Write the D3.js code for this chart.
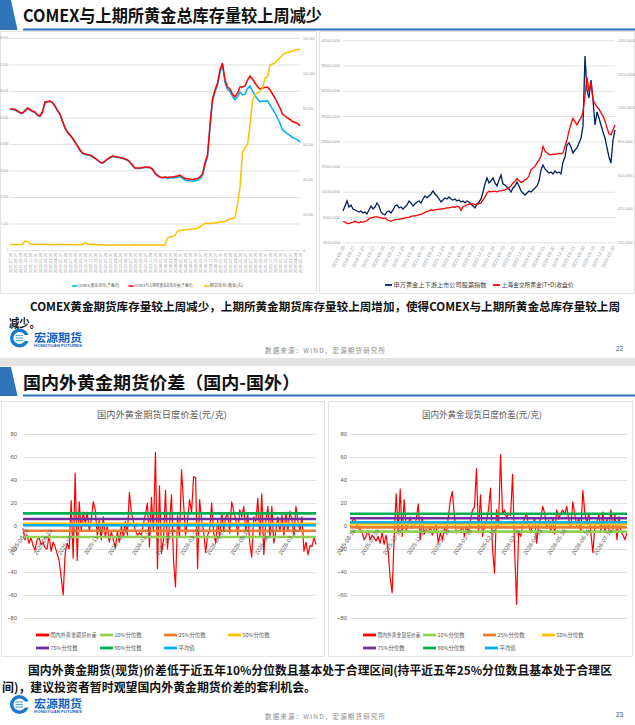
<!DOCTYPE html>
<html><head><meta charset="utf-8">
<script src="https://cdn.jsdelivr.net/npm/d3@7/dist/d3.min.js"></script>
<style>
html,body{margin:0;padding:0;background:#fff;}
svg{display:block;}
</style></head>
<body>
<svg id="chart" width="635" height="725"></svg>
<script>
// ================= DATA =================
// --- Top-left: COMEX & SHFE gold inventories ---
const tlDates = ["2021-07-30","2021-08-27","2021-09-24","2021-10-29","2021-11-26","2021-12-31",
"2022-01-28","2022-02-25","2022-03-25","2022-04-29","2022-05-27","2022-06-24","2022-07-29","2022-08-26","2022-09-30","2022-10-28","2022-11-25","2022-12-30",
"2023-01-27","2023-02-24","2023-03-31","2023-04-28","2023-05-26","2023-06-30","2023-07-28","2023-08-25","2023-09-29","2023-10-27","2023-11-24","2023-12-29",
"2024-01-26","2024-02-23","2024-03-29","2024-04-26","2024-05-31","2024-06-28","2024-07-26","2024-08-30","2024-09-27","2024-10-25","2024-11-29","2024-12-27",
"2025-01-31","2025-02-28","2025-03-28","2025-04-25","2025-05-30","2025-06-27","2025-07-25","2025-08-29","2025-09-26","2025-10-31","2025-11-28","2025-12-26",
"2026-01-30","2026-02-27","2026-03-27","2026-04-24","2026-05-29"];
const tlComex = [31820,31820,31710,31370,31030,30920,31420,31990,31690,31370,
31140,30460,30240,31140,33410,33520,33630,33290,32500,31480,
30690,29110,27520,26620,25940,25260,24350,23450,22540,21860,
21600,21510,21410,21070,20730,20280,19820,19610,20060,20510,
20850,21190,21080,20970,20850,20740,20510,20290,19830,19150,
18470,18480,18480,18590,18700,18700,18590,18250,17340,16780,
16440,16320,16440,16190,16290,16280,16380,16400,16630,16170,
15830,15700,15700,15580,15690,15790,16110,16760,19220,21030,
27820,33700,35730,37310,40240,41830,37970,36350,35890,34750,
34050,34730,35750,35120,35270,36580,37120,36000,34990,34160,
33560,33730,33660,33750,32850,31930,31010,29820,28660,27240,
26750,26300,25950,25470,25230,24990,24410];
const tlTotal = [31920,31920,31810,31470,31130,31020,31580,32150,31810,31470,
31240,30560,30340,31240,33510,33620,33730,33390,32600,31580,
30790,29210,27620,26720,26040,25360,24450,23550,22640,21960,
21730,21620,21510,21170,20830,20380,19920,19700,20150,20600,
20940,21280,21170,21060,20940,20830,20600,20380,19920,19240,
18570,18570,18570,18680,18790,18790,18680,18340,17430,16870,
16530,16410,16530,16410,16530,16530,16640,16750,16980,16530,
16190,16070,16070,15960,16070,16190,16530,17210,19700,21510,
28300,34190,36220,37810,40750,42340,38490,36900,36450,35320,
34640,35550,36900,36900,37130,38490,39390,38710,37810,37020,
36450,36680,36790,36900,36220,35320,34410,33280,32150,30790,
30340,29890,29550,29090,28870,28640,28070];
const tlShfe = [3110,3110,3110,3110,3110,3110,5100,4800,3700,3110,
3050,3150,3110,3200,3110,3050,3000,3110,3150,3110,
3200,3150,3110,3050,3110,3150,3110,3000,3050,3110,
4000,3400,3110,3050,3110,3000,2950,2800,2850,2800,
2750,2800,2850,2800,2750,2800,2800,2850,2800,2780,
3110,2830,2900,2830,2850,2800,2830,2900,2850,2830,
2800,2830,2800,6790,7360,7640,8210,10760,11040,11320,
11320,11600,11600,11890,11890,12450,13020,14150,15000,15000,
15000,15280,15280,15570,15850,15850,16130,16980,17550,17830,
18400,25470,35660,55480,57740,59440,70760,84350,87740,88880,
90010,91710,97370,97940,104730,105290,105860,107560,108690,110390,
111520,111800,112090,112650,113220,113500,113790];
const tlLeftTicks = [0,6000,12000,18000,24000,30000,36000,42000,48000];
const tlRightTicks = [0,20000,40000,60000,80000,100000,120000];
const tlNames = ["COMEX:黄金:库存(千盎司)","COMEX与上期所黄金总库存量(千盎司)","期货库存:黄金(右)"];
const tlColors = ["#00B0F0","#FF0000","#FFC000"];

// --- Top-right: gold stock index vs SGE Au(T+D) ---
const trDates = ["2019-06-28","2019-09-27","2019-12-27","2020-03-27","2020-06-26","2020-09-25","2020-12-25",
"2021-03-26","2021-06-25","2021-09-24","2021-12-24","2022-03-25","2022-06-24","2022-09-23","2022-12-23",
"2023-03-24","2023-06-23","2023-09-22","2023-12-22","2024-03-22","2024-06-21","2024-09-20","2024-12-20",
"2025-03-21","2025-06-20","2025-09-19","2025-12-19","2026-03-20"];
const trIndex = [10700,11690,12680,11490,11890,11100,10900,10700,10500,10700,
10310,10500,10110,10900,11690,11100,11490,12290,11690,10500,
10110,9910,10500,10700,10310,10900,11690,11890,11300,11490,
11100,11490,11890,12680,12290,11690,12090,12480,12680,12290,
13080,13670,13280,13670,14070,14660,14070,13670,13080,12480,
12880,13280,13080,13470,13080,12880,13080,12680,12880,12480,
12680,12290,12680,12480,12090,11690,11300,12090,12480,13080,
14460,16050,17240,16250,16640,17240,16250,15650,16840,17830,
16050,15850,15450,15060,14460,15260,15650,16440,15650,14660,
14270,13870,14270,14660,14460,14860,15260,15650,16640,18820,
19810,19020,18620,18230,18420,18030,18620,18230,18420,18030,
20400,21390,23770,24170,23370,22190,22780,23180,24170,25160,
27530,41390,34660,33080,36640,32680,27730,30300,29120,27730,
26340,25160,23180,21390,20200,24760,26740];
const trGold = [375,370,363,361,367,368,376,369,366,373,
369,375,378,389,395,398,401,401,398,395,
392,395,384,378,375,381,384,386,386,389,
392,395,398,398,404,407,407,410,413,416,
422,428,434,437,443,440,443,446,446,449,
449,452,455,455,458,461,458,464,461,440,
461,467,473,476,478,478,473,476,478,484,
502,520,544,553,550,553,553,550,556,556,
559,562,567,576,585,603,612,630,615,606,
612,621,627,645,680,692,701,722,737,763,
820,793,781,772,769,775,772,775,778,775,
781,820,858,912,953,986,965,947,971,989,
1025,1125,1232,1143,1203,1102,1072,1054,1042,1019,
1001,971,930,894,888,918,947];
const trLeftTicks = [4500,9500,14500,19500,24500,29500,34500,39500,44500];
const trRightTicks = [250,450,650,850,1050,1250,1450];
const trNames = ["申万黄金上下游上市公司股票指数","上海金交所黄金(T+D)收盘价"];
const trColors = ["#002060","#FF0000"];

// --- Bottom: domestic - overseas gold spreads ---
const spreadTicks = [-80,-60,-40,-20,0,20,40,60,80];
const spreadDates = ["2025-08-19","2025-09-19","2025-10-19","2025-11-19","2025-12-19","2026-01-19",
"2026-02-19","2026-03-19","2026-04-19","2026-05-19","2026-06-19","2026-07-19"];
const futLabelIdx = [1,13,25,38,50,62,74,86,99,111,123,135];
const spotLabelIdx = [1,13,24,36,48,59,71,83,94,106,118,129];
const futSpread = [-2,-12,-8,-15,-10,-17,-21,-12,-10,-16,
-14,-19,-20,-8,-22,-14,-18,-24,-30,-44,
-60,-24,-15,-20,22,-28,46,-30,21,-4,
12,2,12,-4,5,21,14,-8,5,-12,
8,-10,0,-14,-5,-12,-19,-5,-14,0,
-10,4,-8,29,12,4,-4,-8,-6,-8,
2,10,20,-18,25,-5,64,-37,35,-24,
-12,31,-20,2,27,-30,-53,9,-10,49,
20,-8,5,23,12,43,42,-37,23,5,
-5,-23,-8,-3,20,-6,-15,5,-10,12,
-4,8,10,-6,21,13,6,-8,14,8,
17,-5,10,-15,-27,8,4,24,-10,28,
-25,4,17,-10,17,-15,-4,8,-5,10,
-8,12,-5,13,5,-8,17,4,-5,8,
-22,-14,-25,-17,-18,-10,-16];
const spotSpread = [0,4,7,3,-2,-3,-5,-12,-9,-4,
-12,-8,-10,-13,-9,-15,-6,-16,-8,-22,
-45,-58,-10,28,-5,32,-9,23,-4,2,
8,-2,-1,6,19,-12,8,-7,-3,-6,
0,-8,-2,1,-15,-6,-12,-2,-6,8,
23,30,8,-6,-4,-5,0,-9,0,-6,
5,14,16,50,-6,27,-9,0,5,14,
33,-20,-41,14,0,62,10,14,7,11,
9,45,-20,-68,-5,-9,0,7,11,0,
-6,1,7,-15,3,6,17,11,-2,5,
-4,6,-7,14,6,11,14,10,17,5,
-1,21,10,0,7,-5,31,11,3,11,
-6,-23,0,4,10,-4,12,-6,6,-3,
14,-3,10,-12,8,-5,-8,-12,-6];
const qNames = ["10%分位数","25%分位数","50%分位数","75%分位数","90%分位数","平均值"];
const qColors = ["#92D050","#ED7D31","#FFC000","#7030A0","#00B050","#00B0F0"];
const futQ = [-9.6,-4.1,2.0,6.1,11.0,0.6];
const spotQ = [-4.9,-1.2,1.5,6.7,10.7,3.2];

// ================= DRAW =================
const CJK = '"Noto Sans CJK SC","Noto Sans",sans-serif';
const NUM = '"Liberation Sans","DejaVu Sans",sans-serif';
const svg = d3.select("#chart").style("font-family", CJK);
svg.append("rect").attr("width",635).attr("height",725).attr("fill","#fff");
svg.append("rect").attr("x",0).attr("y",358).attr("width",635).attr("height",8).attr("fill","#E3E3E3");

function header(y0, y1, title, size, base, len){
  svg.append("polygon").attr("points",`0,${y0} 11,${y0} 17.5,${y1} 0,${y1}`).attr("fill","#2F73B8");
  svg.append("line").attr("x1",23).attr("x2",635).attr("y1",y1-0.5).attr("y2",y1-0.5)
     .attr("stroke","#2F73B8").attr("stroke-width",1.8);
  svg.append("text").attr("x",23).attr("y",base).text(title)
     .style("font-size",size+"px").style("font-weight",700).attr("fill","#111")
     .attr("textLength",len).attr("lengthAdjust","spacingAndGlyphs");
}
header(0,30,"COMEX与上期所黄金总库存量较上周减少",17,21.5,299);
header(367,396,"国内外黄金期货价差（国内-国外）",17.5,389,277);

function body(x,y,str,len,size){
  const t = svg.append("text").attr("x",x).attr("y",y).text(str)
   .style("font-size",(size||12)+"px").style("font-weight",700).attr("fill","#111");
  if(len) t.attr("textLength",len).attr("lengthAdjust","spacingAndGlyphs");
}
body(30,310.5,"COMEX黄金期货库存量较上周减少，上期所黄金期货库存量较上周增加，使得COMEX与上期所黄金总库存量较上周",590,11.6);
body(9,327.5,"减少。",31);
body(28,674.5,"国内外黄金期货(现货)价差低于近五年10%分位数且基本处于合理区间(持平近五年25%分位数且基本处于合理区",584);
body(2,691.5,"间)，建议投资者暂时观望国内外黄金期货价差的套利机会。",314);

function logo(cy, base){
  const g = svg.append("g");
  g.append("circle").attr("cx",19.5).attr("cy",cy).attr("r",7.8).attr("fill","none")
   .attr("stroke","#1C7ACB").attr("stroke-width",3.4);
  g.append("rect").attr("x",22).attr("y",cy-3).attr("width",8).attr("height",6).attr("fill","#fff");
  [-2.5,0,2.5].forEach(d=>g.append("line").attr("x1",15.5).attr("x2",23).attr("y1",cy+d).attr("y2",cy+d)
     .attr("stroke","#5AB0E8").attr("stroke-width",1.2));
  g.append("text").attr("x",34).attr("y",base).text("宏源期货").style("font-size","11px")
   .style("font-weight",700).attr("fill","#1565C0").attr("textLength",48).attr("lengthAdjust","spacingAndGlyphs");
  g.append("text").attr("x",34).attr("y",base+4.5).text("HONGYUAN FUTURES").style("font-size","3.8px")
   .style("font-family",NUM).style("font-weight",700).attr("fill","#1565C0").attr("textLength",48).attr("lengthAdjust","spacingAndGlyphs");
}
logo(338,342);
logo(704.5,708);
function footer(base, num){
  svg.append("text").attr("x",265).attr("y",base).text("数据来源：WIND，宏源期货研究所")
    .style("font-size","6.5px").attr("fill","#8A8A8A").attr("textLength",120).attr("lengthAdjust","spacing");
  svg.append("text").attr("x",616).attr("y",base-1.5).text(num).style("font-size","6.5px")
    .style("font-family",NUM).attr("fill","#2F5597");
}
footer(352.5,"22");
footer(718.5,"23");

// panels
function panel(x,y,w,h){ svg.append("rect").attr("x",x).attr("y",y).attr("width",w).attr("height",h)
  .attr("fill","#fff").attr("stroke","#DCDCDC").attr("stroke-width",0.8); }
panel(0.5,31.5,316,262);
panel(319.5,31.5,315,262);
panel(1.5,401.5,323,255);
panel(328.5,401.5,304,255);

function styleAxis(g,size,color,fam){
  g.select(".domain").remove();
  g.selectAll(".tick line").attr("stroke","#D9D9D9").attr("stroke-width",0.8);
  g.selectAll(".tick text").attr("fill",color).style("font-size",size+"px").style("font-family",fam);
}

// ---------- Top-left ----------
{
  const n = tlTotal.length;
  const x = d3.scaleLinear().domain([0,n-1]).range([10,300]);
  const yl = d3.scaleLinear().domain([0,48000]).range([250,38]);
  const yr = d3.scaleLinear().domain([0,120000]).range([250,38]);
  const g = svg.append("g");
  styleAxis(g.append("g").attr("transform","translate(10,0)")
    .call(d3.axisLeft(yl).tickValues(tlLeftTicks).tickSize(-290).tickPadding(1.5).tickFormat(d3.format(","))),3,"#9a9a9a",NUM);
  styleAxis(g.append("g").attr("transform","translate(300,0)")
    .call(d3.axisRight(yr).tickValues(tlRightTicks).tickSize(0).tickPadding(3).tickFormat(d3.format(","))),3.3,"#9a9a9a",NUM);
  const xa = g.append("g").attr("transform","translate(0,250)")
    .call(d3.axisBottom(x).tickValues(d3.range(0,n,2)).tickSize(0).tickFormat(d=>tlDates[d/2]||""));
  styleAxis(xa,3.9,"#9a9a9a",NUM);
  xa.selectAll(".tick text").attr("x",-3).attr("y",0).attr("dy","0.35em")
    .attr("transform","rotate(-90)").style("text-anchor","end");
  const ln = sc => d3.line().x((d,i)=>x(i)).y(d=>sc(d));
  g.append("path").datum(tlComex).attr("d",ln(yl)).attr("fill","none").attr("stroke",tlColors[0]).attr("stroke-width",1.5);
  g.append("path").datum(tlTotal).attr("d",ln(yl)).attr("fill","none").attr("stroke",tlColors[1]).attr("stroke-width",1.5);
  g.append("path").datum(tlShfe).attr("d",ln(yr)).attr("fill","none").attr("stroke",tlColors[2]).attr("stroke-width",1.5);
  const lx = [72,128.5,204], lw=[42,59,34];
  tlNames.forEach((nm,i)=>{
    g.append("line").attr("x1",lx[i]).attr("x2",lx[i]+5).attr("y1",286).attr("y2",286).attr("stroke",tlColors[i]).attr("stroke-width",1.6);
    g.append("text").attr("x",lx[i]+5.5).attr("y",287.4).text(nm).style("font-size","4px").attr("fill","#595959")
      .attr("textLength",lw[i]).attr("lengthAdjust","spacingAndGlyphs");
  });
}

// ---------- Top-right ----------
{
  const n = trGold.length;
  const x = d3.scaleLinear().domain([0,n-1]).range([343,615]);
  const yl = d3.scaleLinear().domain([4500,44500]).range([242.3,40.3]);
  const yr = d3.scaleLinear().domain([250,1450]).range([242.3,40.3]);
  const g = svg.append("g");
  styleAxis(g.append("g").attr("transform","translate(343,0)")
    .call(d3.axisLeft(yl).tickValues(trLeftTicks).tickSize(-272).tickPadding(3).tickFormat(d3.format(".4f"))),3.6,"#9a9a9a",NUM);
  styleAxis(g.append("g").attr("transform","translate(615,0)")
    .call(d3.axisRight(yr).tickValues(trRightTicks).tickSize(0).tickPadding(3).tickFormat(d3.format(".4f"))),3.6,"#9a9a9a",NUM);
  const xa = g.append("g").attr("transform","translate(0,242.3)")
    .call(d3.axisBottom(x).tickValues(d3.range(0,n,5)).tickSize(0).tickFormat(d=>trDates[d/5]||""));
  styleAxis(xa,4.6,"#9a9a9a",NUM);
  xa.selectAll(".tick text").attr("x",0).attr("y",0).attr("dy","0.35em")
    .attr("transform","translate(0,4) rotate(-63)").style("text-anchor","end");
  const ln = sc => d3.line().x((d,i)=>x(i)).y(d=>sc(d));
  g.append("path").datum(trIndex).attr("d",ln(yl)).attr("fill","none").attr("stroke",trColors[0]).attr("stroke-width",1.3);
  g.append("path").datum(trGold).attr("d",ln(yr)).attr("fill","none").attr("stroke",trColors[1]).attr("stroke-width",1.3);
  const lx=[385,493], lw=[93,72];
  trNames.forEach((nm,i)=>{
    g.append("line").attr("x1",lx[i]).attr("x2",lx[i]+7).attr("y1",285).attr("y2",285).attr("stroke",trColors[i]).attr("stroke-width",1.8);
    g.append("text").attr("x",lx[i]+8.5).attr("y",287.2).text(nm).style("font-size","6.2px").attr("fill","#404040")
      .attr("textLength",lw[i]).attr("lengthAdjust","spacingAndGlyphs");
  });
}

// ---------- Bottom spread charts ----------
function spreadChart(opt){
  const n = opt.data.length;
  const x = d3.scaleLinear().domain([0,n-1]).range([opt.x0,opt.x1]);
  const y = d3.scaleLinear().domain([-80,80]).range([618,434]);
  const g = svg.append("g");
  g.append("text").attr("x",(opt.tx0+opt.tx1)/2).attr("y",418).attr("text-anchor","middle").text(opt.title)
    .style("font-size","8.8px").attr("fill","#595959").attr("textLength",opt.tx1-opt.tx0).attr("lengthAdjust","spacingAndGlyphs");
  styleAxis(g.append("g").attr("transform",`translate(${opt.x0},0)`)
    .call(d3.axisLeft(y).tickValues(spreadTicks).tickSize(-(opt.x1-opt.x0)).tickPadding(opt.pad)),5.8,"#595959",NUM);
  g.append("path").datum(opt.data).attr("d",d3.line().x((d,i)=>x(i)).y(d=>y(d)))
    .attr("fill","none").attr("stroke","#FF0000").attr("stroke-width",1.2).attr("stroke-linejoin","round");
  opt.q.forEach((v,i)=>{
    g.append("path").attr("d",d3.line()([[x(0),y(v)],[x(n-1),y(v)]]))
      .attr("stroke",qColors[i]).attr("stroke-width",2.6).attr("fill","none");
  });
  const xa = g.append("g").attr("transform",`translate(0,${y(0)})`)
    .call(d3.axisBottom(x).tickValues(opt.idx).tickSize(0).tickFormat((d,i)=>spreadDates[i]));
  styleAxis(xa,5.8,"#595959",NUM);
  xa.selectAll(".tick text").attr("x",0).attr("y",0).attr("dy","0.35em")
    .attr("transform","translate(1.5,3.5) rotate(-57)").style("text-anchor","end");
  // legend
  const names = [opt.name].concat(qNames);
  const cols = ["#FF0000"].concat(qColors);
  names.forEach((nm,i)=>{
    const p = opt.leg[i];
    g.append("line").attr("x1",p[0]).attr("x2",p[0]+13).attr("y1",p[1]).attr("y2",p[1]).attr("stroke",cols[i]).attr("stroke-width",2.8);
    const t = g.append("text").attr("x",p[0]+14.5).attr("y",p[1]+2).text(nm).style("font-size","5.4px").attr("fill","#595959");
    if(i===0) t.attr("textLength",opt.firstLen).attr("lengthAdjust","spacingAndGlyphs");
  });
}
spreadChart({data:futSpread,q:futQ,idx:futLabelIdx,x0:23,x1:316,pad:6,tx0:97,tx1:227,firstLen:46,
  title:"国内外黄金期货日度价差(元/克)",name:"国内外黄金期货价差",
  leg:[[36,635],[100,635],[164,635],[228,635],[36,648],[100,648],[164,648]]});
spreadChart({data:spotSpread,q:spotQ,idx:spotLabelIdx,x0:350,x1:627,pad:3,tx0:422,tx1:542,firstLen:43,
  title:"国内外黄金现货日度价差(元/克)",name:"国内外黄金现货价差",
  leg:[[363,635],[423,635],[483,635],[542,635],[363,648],[423,648],[485,648]]});
</script>
</body></html>
